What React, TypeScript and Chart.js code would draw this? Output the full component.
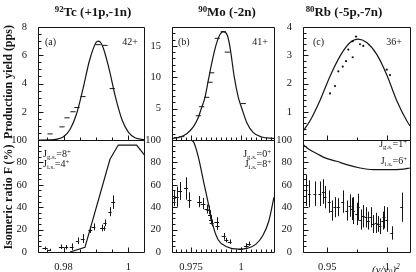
import React, { useEffect, useRef } from "react";
import { Chart, registerables } from "chart.js";
Chart.register(...registerables);

type Pair = [number, number];

// ===================== DATA =====================
// (a) 92Tc (+1p,-1n)
const tcYieldFit: Pair[] = [
  [0.9722, 0], [0.976, 0.01], [0.978, 0.06], [0.98, 0.23], [0.982, 0.74], [0.984, 1.84],
  [0.986, 3.63], [0.988, 5.63], [0.99, 6.9], [0.9907, 7.0], [0.992, 6.66], [0.994, 5.06],
  [0.996, 3.03], [0.998, 1.43], [1.0, 0.54], [1.002, 0.16], [1.004, 0.04], [1.0048, 0.02],
];
const tcYieldMarks: Pair[] = [
  [0.97585, 0.43], [0.97954, 0.93], [0.98108, 1.57], [0.98292, 2.0], [0.98415, 2.3],
  [0.986, 3.07], [0.99062, 6.75], [0.99277, 6.7], [0.995, 3.64],
];
const tcRatioFit: Pair[] = [
  [0.982, 0], [0.9866, 4.2], [0.9943, 82.8], [0.99686, 95.5], [1.0025, 95.5], [1.0048, 87],
];
const tcRatioX = [0.97431, 0.97569, 0.97938, 0.98092, 0.98252, 0.98431, 0.98591, 0.98825, 0.98923, 0.99185, 0.99235, 0.99277, 0.99431, 0.99532];
const tcRatioY = [3.3, 2, 4.7, 4.3, 4.7, 10, 12, 20, 22.5, 21.5, 21, 26, 36, 44.5];
const tcRatioErrY = [1.5, 1, 2, 2, 3, 3, 4, 3, 3, 3, 2, 3, 4, 6];
const tcRatioErrX = [0.0008, 0.0005, 0.0008, 0.0005, 0.0006, 0.0005, 0.0006, 0.0006, 0.0006, 0.0006, 0.0006, 0.0005, 0.0005, 0.0006];

// (b) 90Mo (-2n)
const moYieldFit: Pair[] = [
  [0.9655, 0.24], [0.9695, 0.48], [0.97285, 1.0], [0.97615, 2.1], [0.97865, 3.6], [0.98035, 5.2],
  [0.982, 6.8], [0.98365, 9.5], [0.98535, 12.2], [0.9875, 15.1], [0.9895, 16.8], [0.99115, 17.25],
  [0.99315, 16.7], [0.9945, 14.8], [0.99665, 10.0], [0.99865, 6.8], [1.00035, 5.1], [1.00285, 2.8],
  [1.00615, 1.17], [1.01035, 0.48], [1.0165, 0.24],
];
const moYieldMarks: Pair[] = [
  [0.96785, 0.37], [0.97035, 0.53], [0.97865, 3.86], [0.98035, 5.3], [0.98285, 6.8], [0.9845, 9.2],
  [0.98535, 10.7], [0.98815, 16.2], [0.99115, 17.25], [0.99315, 14.0], [1.00115, 5.8],
];
const moRatioFit: Pair[] = [
  [0.9655, 100], [0.9745, 99.8], [0.97615, 98.5], [0.97865, 85], [0.98115, 64], [0.98365, 43.5],
  [0.98615, 22.6], [0.98865, 10.7], [0.99285, 4.7], [0.99865, 2.5], [1.0035, 3.5], [1.0075, 7],
  [1.011, 15], [1.0138, 27], [1.0165, 49],
];
const moRatioX = [0.9665, 0.96785, 0.9695, 0.9725, 0.97425, 0.97925, 0.981, 0.98275, 0.98375, 0.9845, 0.985, 0.98535, 0.98785, 0.98825, 0.99135, 0.99265, 0.99435, 0.99975, 1.00265, 1.0039];
const moRatioY = [48, 49.4, 54.5, 56.7, 46.4, 45, 43.3, 38.4, 37.5, 33, 28.6, 26, 27, 22.8, 14, 10.7, 9.2, 2.5, 5.8, 7.4];
const moRatioErrY = [7, 9, 8, 10, 7, 5, 5, 4, 4, 4, 4, 3, 4, 3, 3, 2, 2, 1.5, 2, 2];
const moRatioErrX = [0.0008, 0.001, 0.001, 0.001, 0.001, 0.0012, 0.0012, 0.001, 0.001, 0.001, 0.001, 0.001, 0.0012, 0.001, 0.001, 0.001, 0.001, 0.0012, 0.0012, 0.001];

// (c) 80Rb (-5p,-7n)
const rbYieldFit: Pair[] = [
  [0.92975, 0.31], [0.9356, 0.68], [0.9439, 1.4], [0.9522, 2.25], [0.9606, 2.97], [0.969, 3.45],
  [0.9758, 3.57], [0.9828, 3.45], [0.9912, 3.03], [0.9995, 2.31], [1.0078, 1.4], [1.0162, 0.68], [1.0189, 0.5],
];
const rbYieldDots: Pair[] = [
  [0.95225, 1.65], [0.95642, 1.91], [0.95917, 2.43], [0.96283, 2.6], [0.96558, 2.79], [0.9675, 3.2],
  [0.97117, 2.93], [0.97117, 3.5], [0.97392, 3.66], [0.97725, 3.39], [0.98, 3.33], [0.9995, 2.49], [1.00225, 2.3],
];
const rbRatioFit: Pair[] = [
  [0.92975, 96], [0.9356, 91], [0.9411, 88], [0.9481, 84], [0.9578, 81], [0.9662, 78],
  [0.9773, 75], [0.9883, 73.5], [0.9995, 73.5], [1.0133, 74], [1.0189, 75],
];
const rbRatioX = [0.9322, 0.935, 0.9397, 0.9439, 0.9467, 0.9481, 0.9517, 0.9537, 0.9564, 0.9592, 0.9628, 0.9662, 0.9689, 0.9703, 0.9717, 0.9745, 0.9758, 0.9778, 0.98, 0.9822, 0.9842, 0.9862, 0.9883, 0.9906, 0.9925, 0.9939, 0.9962, 0.9972, 0.9995, 1.0037, 1.012];
const rbRatioY = [55, 52, 52, 52, 54, 49, 45, 37, 40, 40, 45, 37, 41.5, 38.5, 37, 34, 40, 29, 32, 31, 28, 31, 25, 26, 25, 23, 28, 31, 29, 17, 40];
const rbRatioErrY = [14, 12, 11, 11, 11, 10, 10, 9, 9, 8, 10, 9, 10, 10, 12, 10, 12, 9, 10, 9, 8, 9, 8, 9, 7, 7, 8, 10, 11, 6, 13];
const rbRatioErrX = rbRatioX.map(() => 0.0012);

// Tick labels
const tcXTickLabels = [0.98, 1];
const moXTickLabels = [0.975, 1];
const rbXTickLabels = [0.95, 1];
const tcYieldTickLabels = [2, 4, 6, 8];
const moYieldTickLabels = [5, 10, 15];
const rbYieldTickLabels = [1, 2, 3, 4];
const ratioTickLabels = [0, 20, 40, 60, 80, 100];

// ===================== LAYOUT / STYLE =====================
const W = 416;
const H = 272;
const INK = "#151515";
const FONT = "'Liberation Serif', 'Times New Roman', serif";

const pts = (a: Pair[]) => a.map(([x, y]) => ({ x, y }));
const errPts = (xs: number[], ys: number[], ex: number[], ey: number[]) =>
  xs.map((x, i) => ({ x, y: ys[i], ex: ex[i], ey: ey[i] }));

function stepTicks(min: number, max: number, step: number) {
  const out: { value: number }[] = [];
  let k = Math.ceil(min / step - 1e-7);
  while (k * step <= max + 1e-9) {
    out.push({ value: Math.round(k * step * 1e6) / 1e6 });
    k++;
  }
  return out;
}
const isIn = (arr: number[], v: number) => arr.some((m) => Math.abs(m - v) < 1e-7);
const fmt = (v: number) => String(Number(v.toFixed(4)));

type Axis = { min: number; max: number; step: number; labels: number[] };
type Spec = { box: [number, number, number, number]; x: Axis; y: Axis; showX: boolean; datasets: any[] };

const fitLine = (data: Pair[], smooth: boolean) => ({
  data: pts(data), showLine: true, borderColor: INK, borderWidth: 1.2, pointRadius: 0,
  tension: 0, cubicInterpolationMode: smooth ? "monotone" : "default", fill: false,
});
const dashMarks = (data: Pair[]) => ({
  data: pts(data), showLine: false, pointStyle: "line", pointRadius: 2.6,
  pointBorderColor: INK, pointBorderWidth: 1, pointBackgroundColor: INK,
});
const dotMarks = (data: Pair[]) => ({
  data: pts(data), showLine: false, pointStyle: "circle", pointRadius: 1.1,
  pointBorderWidth: 0, pointBackgroundColor: INK,
});
const errMarks = (xs: number[], ys: number[], ex: number[], ey: number[]) => ({
  data: errPts(xs, ys, ex, ey), showLine: false, pointRadius: 0, errorBars: true,
});

const COLS = { a: [38, 144], b: [172, 274], c: [303, 410] };
const TOP: [number, number] = [27, 140];
const BOT: [number, number] = [140, 252];

const specs: Spec[] = [
  {
    box: [COLS.a[0], TOP[0], COLS.a[1], TOP[1]], showX: false,
    x: { min: 0.97215, max: 1.00477, step: 0.005, labels: tcXTickLabels },
    y: { min: 0, max: 8, step: 0.5, labels: tcYieldTickLabels },
    datasets: [fitLine(tcYieldFit, true), dashMarks(tcYieldMarks)],
  },
  {
    box: [COLS.a[0], BOT[0], COLS.a[1], BOT[1]], showX: true,
    x: { min: 0.97215, max: 1.00477, step: 0.005, labels: tcXTickLabels },
    y: { min: 0, max: 100, step: 5, labels: ratioTickLabels },
    datasets: [fitLine(tcRatioFit, false), errMarks(tcRatioX, tcRatioY, tcRatioErrX, tcRatioErrY)],
  },
  {
    box: [COLS.b[0], TOP[0], COLS.b[1], TOP[1]], showX: false,
    x: { min: 0.9655, max: 1.0165, step: 0.0025, labels: moXTickLabels },
    y: { min: 0, max: 18, step: 1, labels: moYieldTickLabels },
    datasets: [fitLine(moYieldFit, true), dashMarks(moYieldMarks)],
  },
  {
    box: [COLS.b[0], BOT[0], COLS.b[1], BOT[1]], showX: true,
    x: { min: 0.9655, max: 1.0165, step: 0.0025, labels: moXTickLabels },
    y: { min: 0, max: 100, step: 5, labels: ratioTickLabels },
    datasets: [fitLine(moRatioFit, true), errMarks(moRatioX, moRatioY, moRatioErrX, moRatioErrY)],
  },
  {
    box: [COLS.c[0], TOP[0], COLS.c[1], TOP[1]], showX: false,
    x: { min: 0.92975, max: 1.0189, step: 0.025, labels: rbXTickLabels },
    y: { min: 0, max: 4, step: 0.2, labels: rbYieldTickLabels },
    datasets: [fitLine(rbYieldFit, true), dotMarks(rbYieldDots)],
  },
  {
    box: [COLS.c[0], BOT[0], COLS.c[1], BOT[1]], showX: true,
    x: { min: 0.92975, max: 1.0189, step: 0.025, labels: rbXTickLabels },
    y: { min: 0, max: 100, step: 5, labels: ratioTickLabels },
    datasets: [fitLine(rbRatioFit, true), errMarks(rbRatioX, rbRatioY, rbRatioErrX, rbRatioErrY)],
  },
];

const px = (v: number) => Math.round(v) + 0.5;

function makeFramePlugin(spec: Spec) {
  return {
    id: "frameTicks",
    afterDatasetsDraw(chart: any) {
      const { ctx, chartArea: a, scales } = chart;
      ctx.save();
      ctx.beginPath();
      ctx.rect(a.left, a.top, a.right - a.left, a.bottom - a.top);
      ctx.clip();
      ctx.strokeStyle = INK;
      ctx.lineWidth = 1;
      chart.data.datasets.forEach((ds: any) => {
        if (!ds.errorBars) return;
        ds.data.forEach((p: any) => {
          const cx = px(scales.x.getPixelForValue(p.x));
          const cy = px(scales.y.getPixelForValue(p.y));
          ctx.beginPath();
          ctx.moveTo(cx, scales.y.getPixelForValue(p.y - p.ey));
          ctx.lineTo(cx, scales.y.getPixelForValue(p.y + p.ey));
          ctx.moveTo(scales.x.getPixelForValue(p.x - p.ex), cy);
          ctx.lineTo(scales.x.getPixelForValue(p.x + p.ex), cy);
          ctx.stroke();
        });
      });
      ctx.restore();
    },
    afterDraw(chart: any) {
      const { ctx, chartArea: a, scales } = chart;
      ctx.save();
      ctx.strokeStyle = INK;
      ctx.lineWidth = 1;
      const L = px(a.left), R = px(a.right), T = px(a.top), B = px(a.bottom);
      ctx.beginPath();
      ctx.rect(L, T, R - L, B - T);
      ctx.stroke();
      ctx.beginPath();
      scales.x.ticks.forEach((t: any) => {
        const x = px(scales.x.getPixelForValue(t.value));
        if (x < L || x > R) return;
        const len = isIn(spec.x.labels, t.value) ? 5 : 3;
        ctx.moveTo(x, B);
        ctx.lineTo(x, B - len);
      });
      scales.y.ticks.forEach((t: any) => {
        const y = px(scales.y.getPixelForValue(t.value));
        if (y < T || y > B) return;
        const len = isIn(spec.y.labels, t.value) ? 5 : 3;
        ctx.moveTo(L, y);
        ctx.lineTo(L + len, y);
      });
      ctx.stroke();
      ctx.restore();
    },
  };
}

function Panel({ spec }: { spec: Spec }) {
  const ref = useRef<HTMLCanvasElement | null>(null);
  useEffect(() => {
    if (!ref.current) return;
    const [l, t, r, b] = spec.box;
    const YW = 30;
    const XH = 18;
    const tickFont = { family: FONT, size: 10.5 };
    const chart = new Chart(ref.current, {
      type: "scatter",
      data: { datasets: spec.datasets },
      options: {
        animation: false,
        responsive: false,
        maintainAspectRatio: false,
        events: [],
        layout: { padding: { left: l - YW, top: t, right: W - r, bottom: H - b - XH } },
        plugins: { legend: { display: false }, tooltip: { enabled: false } },
        scales: {
          x: {
            type: "linear",
            min: spec.x.min,
            max: spec.x.max,
            afterBuildTicks: (s: any) => { s.ticks = stepTicks(spec.x.min, spec.x.max, spec.x.step); },
            afterFit: (s: any) => { s.height = XH; },
            grid: { display: false },
            border: { display: false },
            ticks: {
              display: spec.showX,
              autoSkip: false,
              maxRotation: 0,
              padding: 1,
              color: INK,
              font: tickFont,
              callback: (v: any) => (isIn(spec.x.labels, Number(v)) ? fmt(Number(v)) : ""),
            },
          },
          y: {
            type: "linear",
            min: spec.y.min,
            max: spec.y.max,
            afterBuildTicks: (s: any) => { s.ticks = stepTicks(spec.y.min, spec.y.max, spec.y.step); },
            afterFit: (s: any) => { s.width = YW; },
            grid: { display: false },
            border: { display: false },
            ticks: {
              autoSkip: false,
              padding: 3,
              color: INK,
              font: tickFont,
              callback: (v: any) => (isIn(spec.y.labels, Number(v)) ? fmt(Number(v)) : ""),
            },
          },
        },
      } as any,
      plugins: [makeFramePlugin(spec)],
    });
    return () => chart.destroy();
  }, [spec]);
  return (
    <canvas
      ref={ref}
      width={W}
      height={H}
      style={{ position: "absolute", left: 0, top: 0, width: W, height: H }}
    />
  );
}

const supStyle: React.CSSProperties = { fontSize: "0.68em", position: "relative", top: "-0.5em" };
const subStyle: React.CSSProperties = { fontSize: "0.68em", position: "relative", top: "0.3em" };

function Title({ cx, mass, text }: { cx: number; mass: string; text: string }) {
  return (
    <div style={{ position: "absolute", left: cx, top: 5, transform: "translateX(-50%)", font: `bold 13px ${FONT}`, lineHeight: "13px", whiteSpace: "nowrap", color: INK }}>
      <span style={supStyle}>{mass}</span>{text}
    </div>
  );
}

function Spin({ left, right, top, label, value }: { left?: number; right?: number; top: number; label: string; value: string }) {
  return (
    <div style={{ position: "absolute", left, right: right !== undefined ? W - right : undefined, top, font: `10px ${FONT}`, lineHeight: "10px", whiteSpace: "nowrap", color: INK }}>
      J<span style={subStyle}>{label}</span>={value}<span style={supStyle}>+</span>
    </div>
  );
}

function Small({ left, right, top, text }: { left?: number; right?: number; top: number; text: string }) {
  return (
    <div style={{ position: "absolute", left, right: right !== undefined ? W - right : undefined, top, font: `10px ${FONT}`, lineHeight: "10px", whiteSpace: "nowrap", color: INK }}>
      {text}
    </div>
  );
}

function YTitle({ cy, text }: { cy: number; text: string }) {
  const w = 140;
  return (
    <div style={{ position: "absolute", left: 7.5 - w / 2, top: cy - 6, width: w, textAlign: "center", transform: "rotate(-90deg)", font: `bold 12px ${FONT}`, lineHeight: "12px", whiteSpace: "nowrap", color: INK }}>
      {text}
    </div>
  );
}

export default function App() {
  return (
    <div style={{ position: "absolute", left: 0, top: 0, width: W, height: H, overflow: "hidden", background: "#fff" }}>
      {specs.map((s, i) => (
        <Panel key={i} spec={s} />
      ))}
      <Title cx={93} mass="92" text="Tc (+1p,-1n)" />
      <Title cx={227} mass="90" text="Mo (-2n)" />
      <Title cx={344} mass="80" text="Rb (-5p,-7n)" />
      <YTitle cy={82} text="Production yield (pps)" />
      <YTitle cy={197} text="Isomeric ratio F (%)" />
      <Small left={45} top={37} text="(a)" />
      <Small right={138} top={37} text="42+" />
      <Small left={178} top={37} text="(b)" />
      <Small right={268} top={37} text="41+" />
      <Small left={313} top={37} text="(c)" />
      <Small right={402} top={37} text="36+" />
      <Spin left={43} top={149} label="g.s." value="8" />
      <Spin left={43} top={159} label="i.s." value="4" />
      <Spin right={271} top={149} label="g.s." value="0" />
      <Spin right={271} top={159} label="i.s." value="8" />
      <Spin right={407} top={139} label="g.s." value="1" />
      <Spin right={407} top={156} label="i.s." value="6" />
      <div style={{ position: "absolute", left: 372, top: 264, font: `italic 11px ${FONT}`, lineHeight: "11px", whiteSpace: "nowrap", color: INK }}>
        (v/v<span style={{ fontSize: "0.7em", position: "relative", top: "0.3em" }}>0</span>)<span style={supStyle}>2</span>
      </div>
    </div>
  );
}
